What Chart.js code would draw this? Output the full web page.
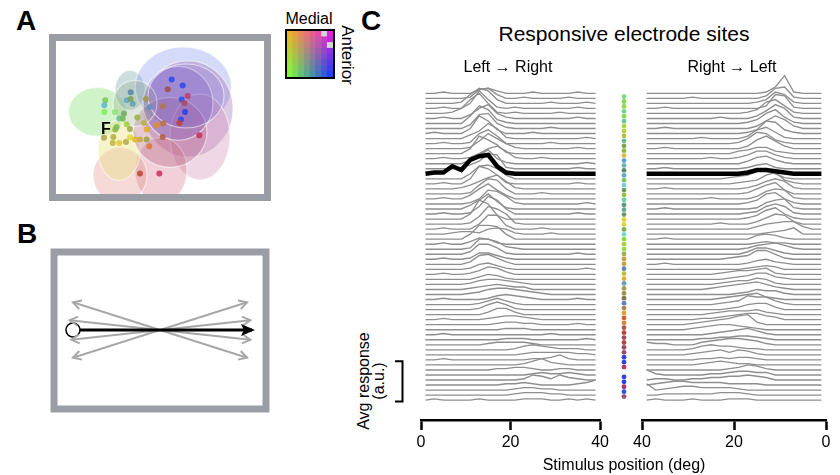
<!DOCTYPE html>
<html>
<head>
<meta charset="utf-8">
<script src="https://cdn.jsdelivr.net/npm/chart.js@4.4.1/dist/chart.umd.min.js"></script>
<style>
  body { margin: 0; background: #fff; font-family: 'Liberation Sans', Arial, Helvetica, sans-serif; }
  #fig { position: relative; width: 840px; height: 475px; overflow: hidden; }
  #fig canvas { position: absolute; }
  .lbl { position: absolute; white-space: nowrap; color: #000; transform: translate(-50%, -50%); line-height: 1; }
  .panel { font-weight: bold; font-size: 28px; }
</style>
</head>
<body>
<div id="fig">
  <canvas id="siteMap" width="222" height="167" style="left:49px;top:34px"></canvas>
  <canvas id="colorKey" width="50" height="50" style="left:285px;top:29px"></canvas>
  <canvas id="sweepMap" width="222" height="167" style="left:49px;top:247px"></canvas>
  <canvas id="tracesLR" width="222" height="413" style="left:390px;top:62px"></canvas>
  <canvas id="siteDots" width="20" height="358" style="left:614px;top:62px"></canvas>
  <canvas id="tracesRL" width="208" height="413" style="left:630px;top:62px"></canvas>

  <div class="lbl panel" style="left:26px;top:21px">A</div>
  <div class="lbl panel" style="left:27px;top:234px">B</div>
  <div class="lbl panel" style="left:371px;top:21px">C</div>
  <div class="lbl" style="left:309px;top:19px;font-size:16px">Medial</div>
  <div class="lbl" style="left:347px;top:55px;font-size:17px;transform:translate(-50%,-50%) rotate(90deg)">Anterior</div>
  <div class="lbl" style="left:106px;top:129px;font-size:16px;font-weight:bold">F</div>
  <div class="lbl" style="left:624px;top:33px;font-size:21px">Responsive electrode sites</div>
  <div class="lbl" style="left:508px;top:67px;font-size:16px">Left → Right</div>
  <div class="lbl" style="left:732px;top:67px;font-size:16px">Right → Left</div>
  <div class="lbl" style="left:624px;top:465px;font-size:16px">Stimulus position (deg)</div>
  <div class="lbl" style="left:364px;top:381px;font-size:16px;transform:translate(-50%,-50%) rotate(-90deg)">Avg response</div>
  <div class="lbl" style="left:379px;top:381px;font-size:16px;transform:translate(-50%,-50%) rotate(-90deg)">(a.u.)</div>
</div>

<script>
// ---- data ----------------------------------------------------------------
// stimulus positions (deg) of the trace samples, in drawing order
const stimDegL = [1, 3, 5, 7, 9, 11, 13, 15, 17, 19, 21, 23, 25, 27, 29, 31, 33, 35, 37, 39];
const stimDegR = [39, 37, 35, 33, 31, 29, 27, 25, 23, 21, 19, 17, 15, 13, 11, 9, 7, 5, 3, 1];
const axisTicks = [0, 20, 40];

// response per sample, base-36 digit, 1 unit = quarter of the row spacing
const tracesLR = [
  "00100 03420 00100 00100", "00000 17830 01000 01000", "00001 7ca30 00001 00010", "00100 4e710 10000 00100",
  "00014 bg810 10000 10000", "00100 38b41 00000 00100", "00000 6eb31 00000 00000", "00000 3bc41 00001 00000",
  "01000 4ea30 00100 00000", "00000 36c81 00000 00010", "00100 18b60 00001 00000", "00000 16c84 10000 00100",
  "00000 4eb71 00000 00000", "00100 148a6 10010 00000", "00000 37b41 00000 00010", "00001 36cb1 00000 00100",
  "01163 bef61 00000 00000", "00000 4ab83 00000 00000", "00100 4ec71 00000 00100", "00001 369b6 10000 00000",
  "00000 17cb4 00010 00000", "00100 38c73 00000 00000", "00000 14ba6 10000 00010", "00000 37c61 00000 00000",
  "00100 16eb4 00000 00100", "00000 4fc30 00000 00000", "00000 16ec8 10000 00000", "00100 04bb3 00010 00000",
  "00012 21454 10001 00000", "00000 4bba4 00000 00000", "00100 25410 00000 00000", "00000 18862 10000 00000",
  "00000 28851 00000 00100", "00100 15531 00000 00000", "00000 27852 00000 00000", "00000 14531 00000 00010",
  "00100 13652 00000 00000", "00000 02431 00000 00000", "00000 13443 21000 00000", "00000 12343 22000 00000",
  "00000 12455 43210 00000", "00100 00134 32100 00100", "00000 01353 10000 00000", "00000 01464 10000 00000",
  "00000 00255 20000 00000", "00100 00123 32100 00000", "00000 00012 21100 00100", "00000 00001 11000 00000",
  "00100 00000 00001 00000", "00000 00001 11000 00010", "00000 00122 22100 00000", "00000 00000 13432 11100",
  "00000 00000 01222 22110", "00100 00000 00112 41000", "00000 00000 01352 10000", "00000 00011 22100 11000",
  "00000 00000 00121 12100", "00000 00000 01431 42100", "00000 00001 12100 00124", "00000 00000 12211 00000",
  "00000 00000 12221 10000", "01000 01000 01110 01010"
];
const tracesRL = [
  "00000 00000 00015 e1000", "00000 10000 00028 91000", "00000 00000 00139 71000", "00100 00000 0002b a1000",
  "00000 00000 0139b 61000", "00000 00010 0026b 81000", "00000 00000 0138b 51000", "00100 00000 0026a 72000",
  "00000 00000 013a9 31000", "00000 01000 02795 10000", "00000 00000 14983 10000", "00100 00000 027a6 20000",
  "00000 00000 23552 10000", "00000 00100 13663 10000", "00000 00000 02563 10000", "00100 00000 01341 00000",
  "00000 00000 01332 10000", "00000 00001 23684 10000", "00000 00000 12379 31000", "00100 00000 01368 61000",
  "00000 00000 01479 30000", "00000 00100 00268 71000", "00000 00000 01389 41000", "00100 00000 00157 81000",
  "00000 00000 01268 61000", "00000 00000 01379 41000", "00000 00010 00258 72000", "00000 00000 00245 66200",
  "00000 00000 00012 35000", "00100 00000 00343 10000", "00000 00000 00121 10000", "00000 00000 01345 31000",
  "00000 00000 02553 10000", "00000 00001 23774 10000", "00100 00000 01342 10000", "00000 00000 01232 00000",
  "00000 00012 33451 00000", "00000 00001 23552 10000", "00000 00012 33541 00000", "00000 00123 45642 10000",
  "00000 00000 12433 10000", "00000 00012 34521 00000", "00000 00012 37663 10000", "00000 00001 24552 00000",
  "00000 00123 33421 00000", "00000 01123 45532 00000", "00000 12345 78200 00000", "00000 12344 32100 00000",
  "00000 00123 45310 00000", "00000 01122 33210 00000", "21100 02345 54310 00000", "00000 13433 21100 00000",
  "00000 12342 43100 00000", "00000 01121 22100 00000", "00000 01232 11000 00000", "00000 00001 24310 00000",
  "41000 00112 33220 00000", "01100 11223 34320 00000", "01233 22221 11100 00000", "50123 32222 10000 00000",
  "00111 11122 21000 00000", "01000 10001 11000 00000"
];
const highlightSite = 16;

// colour of each site in the middle column (null: no marker)
const siteColors = [
  '#78dc78', '#80d848', '#8cd84a', '#78d490', '#88dc50', '#68c898', '#a8d43c', '#b8d040',
  '#b8c040', '#68b890', '#78a848', '#88b848', '#d8c03c', '#5aa0e0', '#68b8a8', '#5a8a6a',
  '#68a8d0', '#78c868', '#78c8e0', '#6a9a5a', '#98c040', '#68d0a0', '#5a9880', '#68a890',
  '#6a9a70', '#e0d030', '#d8d838', '#78b050', '#78d8c8', '#88e040', '#a8d040', '#90e040',
  '#a0b050', '#c0a040', '#d0a040', '#6088a8', '#c0c040', '#e0b030', '#60a0b8', '#a0a050',
  '#a09050', '#807850', '#6080c0', '#b08050', '#e0a030', '#d06030', '#e08030', '#a06050',
  '#c04040', '#a05050', '#b04848', '#a04860', '#a04870', '#3040f0', '#3040e0', '#c03060',
  null, '#3040f0', '#2040f0', '#b03070', '#3050f0', '#a04870'
];

// panel A: electrode sites (box coordinates)
const siteX = [115.7, 126.7, 111.7, 131.7, 125.7, 128.3, 129, 125, 123.3, 143.3, 106.7, 94, 90, 74.7, 70.7, 76.7,
  74.7, 49.3, 48.3, 48.3, 59, 68, 63.3, 66.7, 81.3, 70.7, 60.7, 59.3, 74, 88, 100.7, 107.3, 90.7, 48, 57.3,
  56.7, 63.3, 70, 74, 79, 84, 90.7, 93.3, 106.7, 84, 103.3];
const siteY = [38.6, 44.6, 48.3, 55, 58.6, 62, 71, 78.6, 82, 94.3, 65.3, 66, 58, 51.3, 59.3, 62.7,
  58, 59.3, 64.3, 71, 71, 72.6, 77.6, 77.6, 76.6, 83.3, 86, 88.6, 88, 82, 84.3, 82.6, 88.6, 96.7, 96,
  102, 102, 101, 96.6, 98.6, 98.6, 98.6, 105.3, 96, 132.6, 132.6];
const siteColor = ['#2a4cf0', '#2a4cf0', '#a05048', '#c03c6c', '#3050e8', '#b04858', '#2a40f0', '#3048f0',
  '#c04040', '#c83060', '#b07850', '#6090c0', '#a09850', '#5a88a8', '#60a8c8', '#60a0b0', '#7aa060',
  '#78c858', '#60b8d0', '#80f050', '#88e870', '#70b060', '#60c0a0', '#78b858', '#a0b048', '#a0d040',
  '#70c060', '#90b848', '#a0a850', '#b8b048', '#e09030', '#c07040', '#e0a830', '#b0a848', '#b0b040',
  '#c0b840', '#e0c830', '#b8a848', '#e0d838', '#e0b830', '#c8a840', '#a0a048', '#e07838', '#b06040',
  '#c04838', '#d03060'];

// panel A: receptive fields as ellipses (box coordinates)
const fieldX  = [41.5, 74, 127.3, 132, 144, 105, 64, 63, 114, 122, 79, 130];
const fieldY  = [70.8, 49.3, 46, 67.8, 96, 129.3, 134.3, 109.3, 91.3, 62.3, 62.3, 55];
const fieldRx = [29, 15, 48, 45, 30, 26, 27, 21, 37, 35, 22, 38];
const fieldRy = [24.5, 20, 40, 48, 43, 33, 28, 30, 35, 37, 23, 32];
const fieldColor = ['rgba(140,225,120,0.4)', 'rgba(110,160,160,0.35)', 'rgba(120,140,230,0.32)',
  'rgba(150,90,170,0.32)', 'rgba(210,140,180,0.35)', 'rgba(215,120,140,0.35)', 'rgba(225,150,140,0.35)',
  'rgba(235,225,130,0.4)', 'rgba(170,80,120,0.3)', 'rgba(110,80,190,0.3)', 'rgba(150,170,140,0.3)',
  'rgba(140,110,200,0.25)'];

// colour key corners and the two blank cells
const keyTopLeft = [232, 178, 40], keyTopRight = [228, 32, 222];
const keyBottomLeft = [128, 246, 64], keyBottomRight = [36, 64, 240];
const keyBlankCells = [[0, 6], [2, 7]];
const keySize = 8;

// panel B: bar sweeps (box coordinates)
const sweepX0 = [15.7, 15.7, 12.3, 14];
const sweepY0 = [47.7, 104.3, 66, 86];
const sweepX1 = [192.3, 192.3, 195.7, 195.7];
const sweepY1 = [104.3, 47.7, 86, 66];
const mainSweep = [15.7, 76, 197.3, 76];

// ---- layout --------------------------------------------------------------
Chart.defaults.font.family = "'Liberation Sans', Arial, Helvetica, sans-serif";
Chart.defaults.animation = false;

const ROWS = tracesLR.length;
const UNIT = 4;                 // data units per row
const ROW_PX = 5.03;            // pixels per row
const FIRST_ROW = 93.3;         // page y of the first baseline
const AREA_TOP = 62, AREA_BOTTOM = 420;
const pxPerUnit = ROW_PX / UNIT;
const yMax = (ROWS - 1) * UNIT + (FIRST_ROW - AREA_TOP) / pxPerUnit;
const yMin = (ROWS - 1) * UNIT - (AREA_BOTTOM - FIRST_ROW) / pxPerUnit;
const scaleBar = [-1, 31];

function decode(str) {
  return str.replace(/\s/g, '').split('').map(c => parseInt(c, 36));
}

const noLegend = { legend: { display: false }, tooltip: { enabled: false } };

const framePlugin = {
  id: 'frame',
  afterDraw(chart) {
    const a = chart.chartArea, ctx = chart.ctx;
    const w = chart.config.options.frameWidth, c = chart.config.options.frameColor;
    ctx.save();
    ctx.strokeStyle = c;
    ctx.lineWidth = w;
    ctx.strokeRect(a.left - w / 2, a.top - w / 2, a.width + w, a.height + w);
    ctx.restore();
  }
};

// ---- panel A ---------------------------------------------------------------
const ellipsePlugin = {
  id: 'fields',
  beforeDatasetsDraw(chart) {
    const { ctx, chartArea: a, scales: { x, y } } = chart;
    ctx.save();
    ctx.beginPath();
    ctx.rect(a.left, a.top, a.width, a.height);
    ctx.clip();
    fieldX.forEach((fx, i) => {
      const cx = x.getPixelForValue(fx), cy = y.getPixelForValue(fieldY[i]);
      const rx = Math.abs(x.getPixelForValue(fx + fieldRx[i]) - cx);
      const ry = Math.abs(y.getPixelForValue(fieldY[i] + fieldRy[i]) - cy);
      ctx.beginPath();
      ctx.ellipse(cx, cy, rx, ry, 0, 0, Math.PI * 2);
      ctx.fillStyle = fieldColor[i];
      ctx.fill();
      ctx.strokeStyle = 'rgba(255,255,255,0.55)';
      ctx.lineWidth = 1.2;
      ctx.stroke();
    });
    ctx.restore();
  }
};

new Chart(document.getElementById('siteMap'), {
  type: 'scatter',
  data: {
    datasets: [{
      data: siteX.map((x, i) => ({ x, y: siteY[i] })),
      backgroundColor: siteColor.map(c => c + 'e0'),
      borderWidth: 0,
      pointRadius: 3
    }]
  },
  options: {
    responsive: false,
    frameWidth: 7, frameColor: '#9a9ea4',
    layout: { padding: 7 },
    plugins: noLegend,
    scales: {
      x: { type: 'linear', min: 0, max: 208, display: false },
      y: { type: 'linear', min: 0, max: 153, reverse: true, display: false }
    }
  },
  plugins: [ellipsePlugin, framePlugin]
});

// colour key
function mix(a, b, t) { return a.map((v, k) => v + (b[k] - v) * t); }
function keyColor(r, c) {
  if (keyBlankCells.some(([br, bc]) => br === r && bc === c)) return '#d4d4d4';
  const u = c / (keySize - 1), v = r / (keySize - 1);
  const top = mix(keyTopLeft, keyTopRight, u), bot = mix(keyBottomLeft, keyBottomRight, u);
  const m = mix(top, bot, v).map(Math.round);
  return `rgb(${m[0]}, ${m[1]}, ${m[2]})`;
}
const keyCols = Array.from({ length: keySize }, (_, c) => String(c));
const keyRows = [];
for (let r = keySize - 1; r >= 0; r--) {
  keyRows.push({
    data: keyCols.map(() => 1),
    backgroundColor: keyCols.map((_, c) => keyColor(r, c)),
    borderWidth: 0,
    barPercentage: 1,
    categoryPercentage: 1
  });
}
new Chart(document.getElementById('colorKey'), {
  type: 'bar',
  data: { labels: keyCols, datasets: keyRows },
  options: {
    responsive: false,
    frameWidth: 2, frameColor: '#000',
    layout: { padding: 2 },
    plugins: noLegend,
    scales: {
      x: { stacked: true, display: false },
      y: { stacked: true, display: false, min: 0, max: keySize }
    }
  },
  plugins: [framePlugin]
});

// ---- panel B ---------------------------------------------------------------
const arrowPlugin = {
  id: 'arrows',
  afterDatasetsDraw(chart) {
    const { ctx, scales: { x, y } } = chart;
    chart.data.datasets.forEach(ds => {
      if (!ds.heads) return;
      const pts = ds.data.map(p => [x.getPixelForValue(p.x), y.getPixelForValue(p.y)]);
      const ends = [];
      if (ds.heads.includes('start')) ends.push([pts[0], pts[1]]);
      if (ds.heads.includes('end')) ends.push([pts[pts.length - 1], pts[pts.length - 2]]);
      ends.forEach(([tip, from]) => {
        const ang = Math.atan2(tip[1] - from[1], tip[0] - from[0]);
        ctx.save();
        ctx.translate(tip[0], tip[1]);
        ctx.rotate(ang);
        if (ds.solidHead) {
          ctx.beginPath();
          ctx.moveTo(3, 0);
          ctx.lineTo(-11, -6);
          ctx.lineTo(-8, 0);
          ctx.lineTo(-11, 6);
          ctx.closePath();
          ctx.fillStyle = ds.borderColor;
          ctx.fill();
        } else {
          ctx.beginPath();
          ctx.moveTo(-8, -4.5);
          ctx.lineTo(0, 0);
          ctx.lineTo(-8, 4.5);
          ctx.strokeStyle = ds.borderColor;
          ctx.lineWidth = ds.borderWidth;
          ctx.stroke();
        }
        ctx.restore();
      });
    });
  }
};

const sweepSets = sweepX0.map((x0, i) => ({
  data: [{ x: x0, y: sweepY0[i] }, { x: sweepX1[i], y: sweepY1[i] }],
  showLine: true, borderColor: '#a8a8a8', borderWidth: 2, pointRadius: 0,
  heads: ['start', 'end'], order: 3
}));
sweepSets.push({
  data: [{ x: mainSweep[0], y: mainSweep[1] }, { x: mainSweep[2], y: mainSweep[3] }],
  showLine: true, borderColor: '#000', borderWidth: 3, pointRadius: 0,
  heads: ['end'], solidHead: true, order: 2
});
sweepSets.push({
  data: [{ x: mainSweep[0], y: mainSweep[1] }],
  pointRadius: 7, backgroundColor: '#fff', borderColor: '#000', borderWidth: 1.5, order: 1
});

new Chart(document.getElementById('sweepMap'), {
  type: 'scatter',
  data: { datasets: sweepSets },
  options: {
    responsive: false,
    frameWidth: 7, frameColor: '#9a9ea4',
    layout: { padding: 7 },
    plugins: noLegend,
    scales: {
      x: { type: 'linear', min: 0, max: 208, display: false },
      y: { type: 'linear', min: 0, max: 153, reverse: true, display: false }
    }
  },
  plugins: [arrowPlugin, framePlugin]
});

// ---- panel C ---------------------------------------------------------------
const scaleBarPlugin = {
  id: 'scaleBar',
  afterDraw(chart) {
    const { ctx, chartArea: a, scales: { y } } = chart;
    const x0 = a.left - 18.5, x1 = a.left - 26;
    const yTop = y.getPixelForValue(scaleBar[1]), yBot = y.getPixelForValue(scaleBar[0]);
    ctx.save();
    ctx.strokeStyle = '#000';
    ctx.lineWidth = 2;
    ctx.beginPath();
    ctx.moveTo(x1, yTop);
    ctx.lineTo(x0, yTop);
    ctx.lineTo(x0, yBot);
    ctx.lineTo(x1, yBot);
    ctx.stroke();
    ctx.restore();
  }
};

function traceChart(id, traces, xs, reverse, padLeft, padRight, extra) {
  const datasets = traces.map((s, i) => {
    const hot = i === highlightSite;
    return {
      data: decode(s).map((h, k) => ({ x: xs[k], y: (ROWS - 1 - i) * UNIT + h })),
      borderColor: hot ? '#000' : '#8e8e8e',
      borderWidth: hot ? 4.5 : 1.35,
      order: hot ? 0 : 1,
      pointRadius: 0,
      tension: 0,
      fill: false
    };
  });
  return new Chart(document.getElementById(id), {
    type: 'line',
    data: { datasets },
    options: {
      responsive: false,
      layout: { padding: { left: padLeft, right: padRight, top: 0, bottom: 0 } },
      plugins: noLegend,
      scales: {
        x: {
          type: 'linear', min: 0, max: 40, reverse,
          afterBuildTicks: s => { s.ticks = axisTicks.map(v => ({ value: v })); },
          ticks: { color: '#000', font: { size: 16 }, padding: 3, maxRotation: 0 },
          grid: { drawOnChartArea: false, tickLength: 10, tickColor: '#000', tickWidth: 2.5 },
          border: { color: '#000', width: 2.5 },
          afterFit: s => { s.height = 55; }
        },
        y: { display: false, min: yMin, max: yMax }
      }
    },
    plugins: extra
  });
}

traceChart('tracesLR', tracesLR, stimDegL, false, 31, 11, [scaleBarPlugin]);
traceChart('tracesRL', tracesRL, stimDegR, true, 12, 12, []);

const dotPts = [], dotCols = [];
siteColors.forEach((c, i) => {
  if (!c) return;
  dotPts.push({ x: 0.5, y: (ROWS - 1 - i) * UNIT });
  dotCols.push(c);
});
new Chart(document.getElementById('siteDots'), {
  type: 'scatter',
  data: { datasets: [{ data: dotPts, backgroundColor: dotCols, borderWidth: 0, pointRadius: 2.4 }] },
  options: {
    responsive: false,
    layout: { padding: 0 },
    plugins: noLegend,
    scales: {
      x: { display: false, min: 0, max: 1 },
      y: { display: false, min: yMin, max: yMax }
    }
  }
});
</script>
</body>
</html>
